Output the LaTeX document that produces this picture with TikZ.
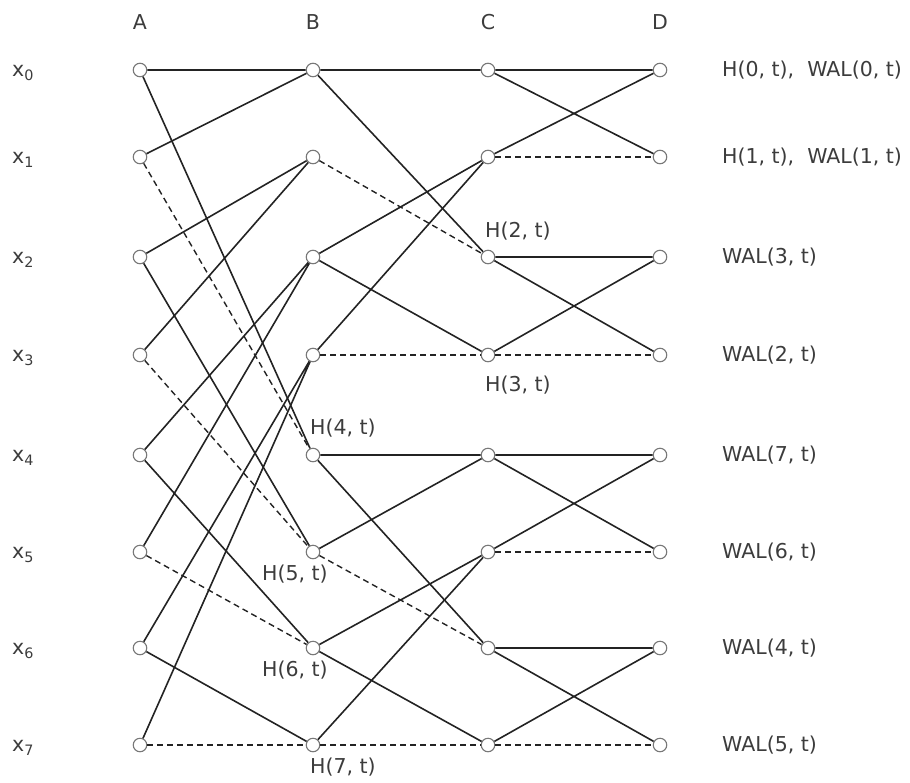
\documentclass[tikz,border=0pt]{standalone}
\usepackage{fontspec}
\setmainfont{DejaVu Sans}
\definecolor{ink}{RGB}{35,35,35}
\definecolor{txt}{RGB}{60,60,60}
\definecolor{ring}{RGB}{120,120,120}
\begin{document}
\begin{tikzpicture}[x=1pt,y=-1pt,
  pt/.style={circle,draw=ring,fill=white,line width=1.1pt,minimum size=13.5pt,inner sep=0pt},
  wire/.style={draw=ink,line width=1.6pt},
  neg/.style={draw=ink,line width=1.4pt,dash pattern=on 6pt off 4pt},
  lbl/.style={text=txt,font=\fontsize{20.5}{24}\selectfont,inner sep=0pt}]
\useasboundingbox (0,0) rectangle (910,782);
% grid of points
\foreach \c/\x in {A/140,B/313,C/488,D/660}{
  \foreach \r/\y in {0/70,1/157,2/257,3/355,4/455,5/552,6/648,7/745}{
    \node[pt] (\c\r) at (\x,\y) {};
  }
}
% column labels
\node[lbl] (lA) at (140,22) {A};
\node[lbl] (lB) at (313,22) {B};
\node[lbl] (lC) at (488,22) {C};
\node[lbl] (lD) at (660,22) {D};
% row labels
\foreach \r/\y in {0/70,1/157,2/257,3/355,4/455,5/552,6/648,7/745}{
  \node[lbl,anchor=west] (x\r) at (12,\y+3) {x\textsubscript{\r}};
}
% output labels
\node[lbl,anchor=west] (o0) at (722,70) {H(0, t),\ \ WAL(0, t)};
\node[lbl,anchor=west] (o1) at (722,157) {H(1, t),\ \ WAL(1, t)};
\node[lbl,anchor=west] (o2) at (722,257) {WAL(3, t)};
\node[lbl,anchor=west] (o3) at (722,355) {WAL(2, t)};
\node[lbl,anchor=west] (o4) at (722,455) {WAL(7, t)};
\node[lbl,anchor=west] (o5) at (722,552) {WAL(6, t)};
\node[lbl,anchor=west] (o6) at (722,648) {WAL(4, t)};
\node[lbl,anchor=west] (o7) at (722,745) {WAL(5, t)};
% intermediate labels
\node[lbl] (h2) at (518,231) {H(2, t)};
\node[lbl] (h3) at (518,385) {H(3, t)};
\node[lbl] (h4) at (343,428) {H(4, t)};
\node[lbl] (h5) at (295,574) {H(5, t)};
\node[lbl] (h6) at (295,670) {H(6, t)};
\node[lbl] (h7) at (343,767) {H(7, t)};
% stage A -> B
\draw[wire] (A0)--(B0) (A1)--(B0) (A0)--(B4);
\draw[neg] (A1)--(B4);
\draw[wire] (A2)--(B1) (A3)--(B1) (A2)--(B5);
\draw[neg] (A3)--(B5);
\draw[wire] (A4)--(B2) (A5)--(B2) (A4)--(B6);
\draw[neg] (A5)--(B6);
\draw[wire] (A6)--(B3) (A7)--(B3) (A6)--(B7);
\draw[neg] (A7)--(B7);
% stage B -> C
\draw[wire] (B0)--(C0) (B0)--(C2);
\draw[neg] (B1)--(C2);
\draw[wire] (B2)--(C1) (B3)--(C1) (B2)--(C3);
\draw[neg] (B3)--(C3);
\draw[wire] (B4)--(C4) (B5)--(C4) (B4)--(C6);
\draw[neg] (B5)--(C6);
\draw[wire] (B6)--(C5) (B7)--(C5) (B6)--(C7);
\draw[neg] (B7)--(C7);
% stage C -> D
\draw[wire] (C0)--(D0) (C1)--(D0) (C0)--(D1);
\draw[neg] (C1)--(D1);
\draw[wire] (C2)--(D2) (C3)--(D2) (C2)--(D3);
\draw[neg] (C3)--(D3);
\draw[wire] (C4)--(D4) (C5)--(D4) (C4)--(D5);
\draw[neg] (C5)--(D5);
\draw[wire] (C6)--(D6) (C7)--(D6) (C6)--(D7);
\draw[neg] (C7)--(D7);
\end{tikzpicture}
\end{document}
